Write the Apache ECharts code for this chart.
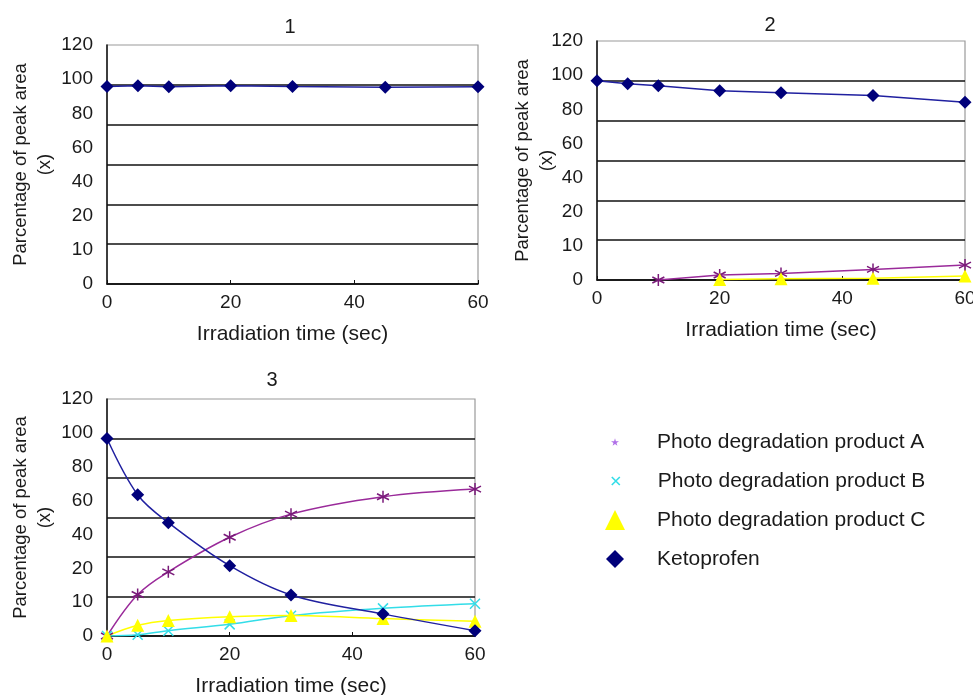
<!DOCTYPE html>
<html>
<head>
<meta charset="utf-8">
<script src="https://cdn.jsdelivr.net/npm/echarts@6/dist/echarts.min.js"></script>
<style>
  html, body { margin: 0; padding: 0; background: #fff; }
  #chart { width: 973px; height: 695px; }
</style>
</head>
<body>
<div id="chart"></div>
<script>
// Irradiation time points (sec)
const timeSec = [0, 5, 10, 20, 30, 45, 60];
// Tick labels printed along each vertical axis
const yTickLabels = ['0', '10', '20', '40', '60', '80', '100', '120'];
const panelTitles = ['1', '2', '3'];
const seriesNames = ['Photo degradation product A', 'Photo degradation product B',
                     'Photo degradation product C', 'Ketoprofen'];

// Panel 1
const p1Keto = [99.2, 99.6, 99.0, 99.6, 99.2, 98.8, 99.0];
// Panel 2
const p2Keto = [100, 98.5, 97.5, 95.0, 94.0, 92.6, 89.3];
const p2ProdA = [null, null, 0, 2.5, 3.3, 5.3, 7.5];
const p2ProdC = [null, null, null, 0.3, 0.6, 0.9, 2.0];
// Panel 3
const p3Keto = [100, 71.5, 57.4, 35.6, 20.8, 11.2, 2.7];
const p3ProdA = [0, 21.0, 32.5, 50.0, 61.7, 70.5, 74.4];
const p3ProdB = [0, 0.6, 2.7, 5.9, 10.3, 14.0, 16.3];
const p3ProdC = [0, 5.4, 7.9, 9.8, 10.4, 8.8, 7.5];

const FONT = '"Liberation Sans", Arial, sans-serif';
const TXT = '#1a1a1a';

const COL = {
  ketoMark: '#00007a', ketoLine: '#2020a0',
  aMark: '#7a1a7a', aLine: '#9a2a9a', aLegend: '#b070e8',
  b: '#33dde8', c: '#ffff00'
};

const ASTERISK = 'path://M5,0L5,10M0.7,2.5L9.3,7.5M0.7,7.5L9.3,2.5';
const CROSS = 'path://M0,0L10,10M10,0L0,10';
const STAR = 'path://M50,0L61,35L98,35L68,57L79,91L50,70L21,91L32,57L2,35L39,35Z';

const pairs = (ys) => timeSec.map((t, i) => [t, ys[i]]);

const grids = [
  { left: 107, top: 45, width: 371, height: 239 },
  { left: 597, top: 41, width: 368, height: 239 },
  { left: 107, top: 399, width: 368, height: 237 }
].map(g => Object.assign(g, {
  show: true, borderColor: '#9a9a9a', borderWidth: 1.2,
  containLabel: false, outerBoundsMode: 'none'
}));

// distance of the vertical axis title from each panel's axis line
const yNameGaps = [50, 38, 50];

const xAxes = grids.map((g, i) => ({
  type: 'value', gridIndex: i, min: 0, max: 60, interval: 20,
  name: 'Irradiation time (sec)', nameLocation: 'middle', nameGap: 40,
  nameMoveOverlap: false,
  nameTextStyle: { fontFamily: FONT, fontSize: 21, color: TXT },
  axisLine: { show: true, onZero: false, lineStyle: { color: '#111', width: 1.5 } },
  axisTick: { show: true, inside: true, length: 4, lineStyle: { color: '#111' } },
  axisLabel: { fontFamily: FONT, fontSize: 19, color: TXT, margin: 9 },
  splitLine: { show: false }
}));

const yAxes = [];
grids.forEach((g, i) => {
  // value scale for the data and the horizontal grid lines
  yAxes.push({
    type: 'value', gridIndex: i, min: 0, max: 120, interval: 20, position: 'left',
    name: 'Parcentage of peak area\n(x)', nameLocation: 'middle', nameGap: yNameGaps[i],
    nameMoveOverlap: false,
    nameTextStyle: { fontFamily: FONT, fontSize: 18.5, color: TXT, lineHeight: 24 },
    axisLine: { show: true, lineStyle: { color: '#111', width: 1.5 } },
    axisTick: { show: false },
    axisLabel: { show: false },
    splitLine: { show: true, showMaxLine: false, lineStyle: { color: '#111', width: 1.6 } }
  });
  // printed tick labels
  yAxes.push({
    type: 'category', gridIndex: i, position: 'left', boundaryGap: false,
    data: yTickLabels,
    axisLine: { show: false }, axisTick: { show: false }, splitLine: { show: false },
    axisLabel: { fontFamily: FONT, fontSize: 19, color: TXT, margin: 14 }
  });
});

function lineSeries(name, grid, ys, style, smooth) {
  return {
    name, type: 'line', xAxisIndex: grid, yAxisIndex: grid * 2,
    data: pairs(ys), smooth: smooth ? 0.35 : false, connectNulls: false,
    symbol: style.symbol, symbolSize: style.size,
    lineStyle: { color: style.line, width: 1.5 },
    itemStyle: style.item,
    emphasis: { disabled: true }, animation: false, z: style.z || 2
  };
}

const ST = {
  keto: { symbol: 'diamond', size: 13, line: COL.ketoLine, item: { color: COL.ketoMark }, z: 3 },
  a: { symbol: ASTERISK, size: 12, line: COL.aLine,
       item: { color: 'transparent', borderColor: COL.aMark, borderWidth: 1.5 } },
  b: { symbol: CROSS, size: 10, line: COL.b,
       item: { color: 'transparent', borderColor: COL.b, borderWidth: 1.5 } },
  c: { symbol: 'triangle', size: 13, line: COL.c, item: { color: COL.c } }
};

const series = [
  lineSeries(seriesNames[3], 0, p1Keto, ST.keto, false),

  lineSeries(seriesNames[0], 1, p2ProdA, ST.a, false),
  lineSeries(seriesNames[2], 1, p2ProdC, ST.c, false),
  lineSeries(seriesNames[3], 1, p2Keto, ST.keto, false),

  lineSeries(seriesNames[0], 2, p3ProdA, ST.a, true),
  lineSeries(seriesNames[1], 2, p3ProdB, ST.b, true),
  lineSeries(seriesNames[2], 2, p3ProdC, ST.c, true),
  lineSeries(seriesNames[3], 2, p3Keto, ST.keto, true)
];

const titles = [
  { text: panelTitles[0], left: 285, top: 12 },
  { text: panelTitles[1], left: 765, top: 10 },
  { text: panelTitles[2], left: 267, top: 365 }
].map(t => Object.assign(t, {
  textAlign: 'center',
  textStyle: { fontFamily: FONT, fontSize: 20, fontWeight: 'normal', color: TXT }
}));

// one legend block per entry, so each keeps its own marker size
const legendIcons = [
  { icon: STAR, size: 8, color: COL.aLegend },
  { icon: CROSS, size: 8, color: COL.b, stroke: true },
  { icon: 'triangle', size: 20, color: COL.c },
  { icon: 'diamond', size: 18, color: COL.ketoMark }
];
const legendRows = [440, 479, 518, 557];
const legends = seriesNames.map((name, i) => {
  const ic = legendIcons[i];
  return {
    selectedMode: false,
    left: 610 - ic.size / 2, top: legendRows[i] - 15,
    itemWidth: ic.size, itemHeight: ic.size,
    data: [{
      name, icon: ic.icon,
      itemStyle: ic.stroke
        ? { color: 'transparent', borderColor: ic.color, borderWidth: 1.6 }
        : { color: ic.color, borderWidth: 0 }
    }],
    textStyle: {
      fontFamily: FONT, fontSize: 21, color: TXT, lineHeight: 24,
      padding: [0, 0, 0, 652 - (610 + ic.size / 2 + 5)]
    }
  };
});

const chart = echarts.init(document.getElementById('chart'), null, { renderer: 'canvas' });
chart.setOption({
  backgroundColor: '#ffffff',
  animation: false,
  title: titles,
  legend: legends,
  grid: grids,
  xAxis: xAxes,
  yAxis: yAxes,
  series
});
</script>
</body>
</html>
